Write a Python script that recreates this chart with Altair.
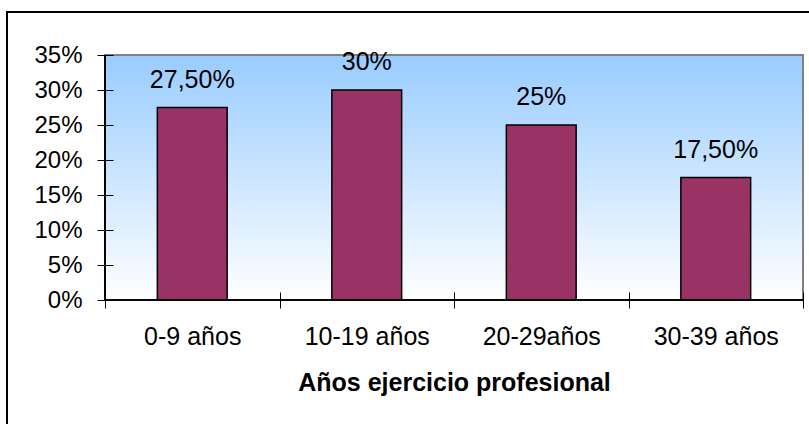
import altair as alt
import pandas as pd

# Share of respondents by years of professional practice
categorias = ["0-9 años", "10-19 años", "20-29años", "30-39 años"]
valores = [0.275, 0.30, 0.25, 0.175]
etiquetas = ["27,50%", "30%", "25%", "17,50%"]
marcas_y = [0, 0.05, 0.10, 0.15, 0.20, 0.25, 0.30, 0.35]

df = pd.DataFrame({"cat": categorias, "val": valores, "lab": etiquetas})

W, H = 698, 245
FONT = "Liberation Sans"

x_enc = alt.X(
    "cat:N",
    sort=categorias,
    scale=alt.Scale(paddingInner=0, paddingOuter=0),
    axis=alt.Axis(
        title="Años ejercicio profesional",
        titleFont=FONT, titleFontSize=25, titleFontWeight="bold", titleColor="black",
        titlePadding=21,
        labelFont=FONT, labelFontSize=25, labelColor="black", labelAngle=0,
        labelPadding=16, labelOverlap=False,
        tickBand="extent", tickSize=16, tickColor="black", tickWidth=1,
        offset=-8, domain=False, grid=False, zindex=2,
    ),
)
y_enc = alt.Y(
    "val:Q",
    scale=alt.Scale(domain=[0, 0.35], nice=False, zero=True),
    axis=alt.Axis(
        title=None, format=".0%", values=marcas_y, tickCount=8,
        labelFont=FONT, labelFontSize=24, labelColor="black",
        labelPadding=15, labelOverlap=False, labelFlush=False, labelBound=False,
        tickSize=16, tickColor="black", tickWidth=1,
        offset=-8, domain=False, grid=False, zindex=2,
    ),
)

base = alt.Chart(df)

# outer chart frame
frame = base.mark_rect(fill=None, stroke="black", strokeWidth=1.5).encode(
    x=alt.value(-98), x2=alt.value(W + 40), y=alt.value(-43), y2=alt.value(H + 200)
)

# plot area with vertical blue-to-white gradient
plot_bg = base.mark_rect(
    fill=alt.Gradient(
        gradient="linear", x1=0, x2=0, y1=0, y2=1,
        stops=[alt.GradientStop(color="#99CCFF", offset=0),
               alt.GradientStop(color="#FFFFFF", offset=1)],
    ),
    stroke="#808080", strokeWidth=2,
).encode(x=alt.value(0), x2=alt.value(W), y=alt.value(0), y2=alt.value(H))

bars = base.mark_bar(
    color="#993366", stroke="black", strokeWidth=1.5, width={"band": 0.4}
).encode(x=x_enc, y=y_enc)

labels = base.mark_text(
    font=FONT, fontSize=25, color="black", baseline="alphabetic", dy=-20
).encode(x=x_enc, y=y_enc, text="lab:N")

axis_left = base.mark_rule(color="black", strokeWidth=1.2).encode(
    x=alt.value(0), y=alt.value(0), y2=alt.value(H)
)
axis_bottom = base.mark_rule(color="black", strokeWidth=1.2).encode(
    x=alt.value(0), x2=alt.value(W), y=alt.value(H)
)

chart = (
    alt.layer(frame, plot_bg, bars, labels, axis_left, axis_bottom)
    .properties(
        width=W, height=H,
        autosize=alt.AutoSizeParams(type="none"),
        padding={"left": 105, "top": 55, "right": 6, "bottom": 124},
        background="white",
    )
    .configure_view(stroke=None)
)

chart.save("out.html", embed_options={"renderer": "svg", "actions": False})
